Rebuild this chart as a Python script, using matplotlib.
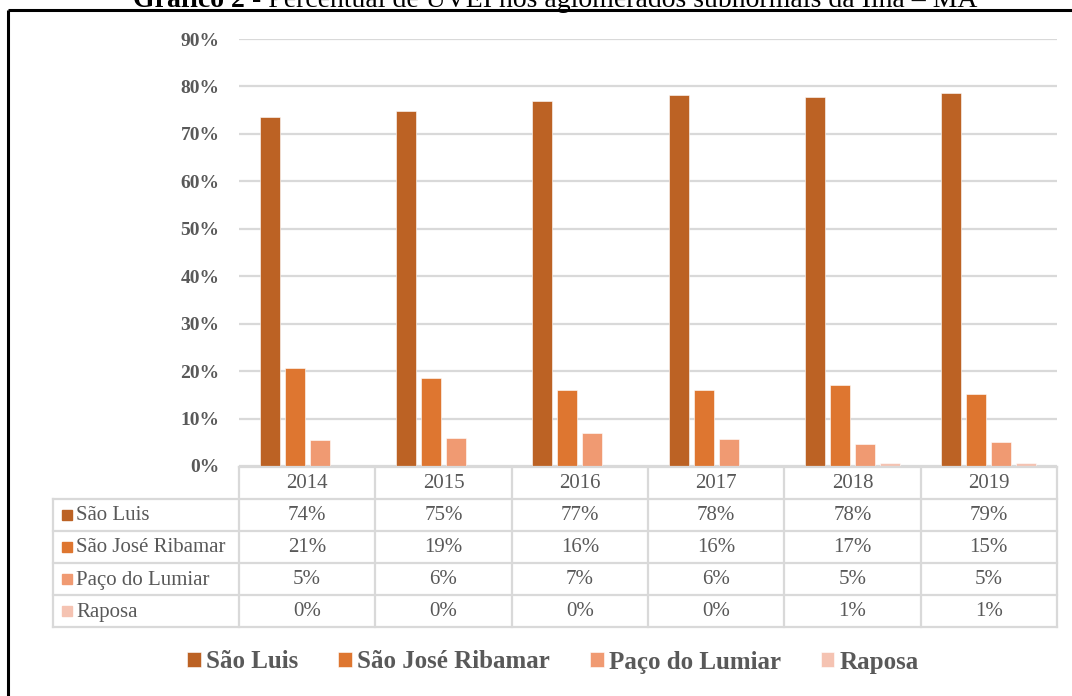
import matplotlib
matplotlib.use("Agg")
import matplotlib.pyplot as plt
import numpy as np

plt.rcParams['font.family'] = ['Liberation Serif', 'DejaVu Serif']

anos = ["2014", "2015", "2016", "2017", "2018", "2019"]
municipios = ["São Luis", "São José Ribamar", "Paço do Lumiar", "Raposa"]
sao_luis = [73.6, 74.9, 77.0, 78.1, 77.8, 78.6]
sao_jose = [20.6, 18.6, 16.0, 16.0, 17.0, 15.2]
paco = [5.4, 5.9, 7.0, 5.6, 4.6, 5.1]
raposa = [0.0, 0.0, 0.0, 0.1, 0.6, 0.7]
series = [sao_luis, sao_jose, paco, raposa]
cores = ["#BC6224", "#DE7630", "#F09A72", "#F5C3B2"]
yticks = [0, 10, 20, 30, 40, 50, 60, 70, 80, 90]

cinza = "#595959"
linha = "#d9d9d9"
W, H = 1072, 696

fig = plt.figure(figsize=(W / 100, H / 100), dpi=100)

# area do grafico de barras
x0, x1, ytop, ybot = 239, 1057, 39, 466
ax = fig.add_axes([x0 / W, 1 - ybot / H, (x1 - x0) / W, (ybot - ytop) / H])
x = np.arange(len(anos))
colw = (x1 - x0) / len(anos)
largura = 20 / colw
passo = 25 / colw
barras = []
for k in range(len(series)):
    b = ax.bar(x + (k - 1.5) * passo, series[k], largura, color=cores[k],
               edgecolor="white", linewidth=0.4, label=municipios[k], zorder=3)
    barras.append(b)
ax.set_xlim(-0.5, len(anos) - 0.5)
ax.set_ylim(0, 90)
ax.set_yticks(yticks)
ax.set_yticklabels(["{}%".format(t) for t in yticks], fontweight="bold",
                   color=cinza, fontsize=14)
ax.tick_params(axis="y", length=0, pad=14)
ax.set_xticks([])
ax.grid(axis="y", color=linha, linewidth=1.6, zorder=0)
for s in ax.spines.values():
    s.set_visible(False)

# tabela de dados e moldura, em coordenadas de pixel
tab = fig.add_axes([0, 0, 1, 1])
tab.set_xlim(0, W)
tab.set_ylim(H, 0)
tab.axis("off")
tab.patch.set_alpha(0)

xl = 53
linhas_y = [467, 499, 531, 563, 595, 627]
# horizontais
tab.plot([x0, x1], [linhas_y[0], linhas_y[0]], color=linha, lw=1.6)
for yy in linhas_y[1:]:
    tab.plot([xl, x1], [yy, yy], color=linha, lw=1.6)
# verticais
tab.plot([xl, xl], [linhas_y[1], linhas_y[-1]], color=linha, lw=1.6)
for i in range(len(anos) + 1):
    xx = x0 + i * colw
    tab.plot([xx, xx], [linhas_y[0], linhas_y[-1]], color=linha, lw=1.6)

for i, a in enumerate(anos):
    tab.text(x0 + (i + 0.5) * colw, (linhas_y[0] + linhas_y[1]) / 2 + 1, a,
             ha="center", va="center", fontsize=15, color=cinza)
for k, nome in enumerate(municipios):
    yc = (linhas_y[k + 1] + linhas_y[k + 2]) / 2
    tab.add_patch(plt.Rectangle((62, yc - 5), 10, 10, color=cores[k]))
    tab.text(76, yc + 1, nome, ha="left", va="center", fontsize=15, color=cinza)
    for i in range(len(anos)):
        tab.text(x0 + (i + 0.5) * colw, yc + 1, "{}%".format(round(series[k][i])),
                 ha="center", va="center", fontsize=15, color=cinza)

# moldura
tab.plot([8, 8], [10, H], color="black", lw=2.2, solid_capstyle="butt")
tab.plot([8, W], [10, 10], color="black", lw=2.2, solid_capstyle="butt")

# legenda
leg = fig.legend(handles=barras, labels=municipios, loc="center", ncol=4,
                 bbox_to_anchor=(553 / W, 1 - 662 / H), frameon=False,
                 handlelength=0.55, handleheight=0.55, handletextpad=0.2,
                 columnspacing=1.6, prop={"weight": "bold", "size": 18})
for t in leg.get_texts():
    t.set_color(cinza)

# titulo (cortado no topo, como no original)
r = fig.canvas.get_renderer()
t1 = fig.text(0, 1 - 7 / H, "Gráfico 2", fontsize=20, fontweight="bold",
              va="baseline", ha="left")
t2 = fig.text(0, 1 - 7 / H, " - Percentual de UVEI nos aglomerados subnormais da Ilha – MA",
              fontsize=20, va="baseline", ha="left")
w1 = t1.get_window_extent(r).width
w2 = t2.get_window_extent(r).width
inicio = 555 - (w1 + w2) / 2
t1.set_x(inicio / W)
t2.set_x((inicio + w1) / W)

fig.savefig("out.png", dpi=100)
